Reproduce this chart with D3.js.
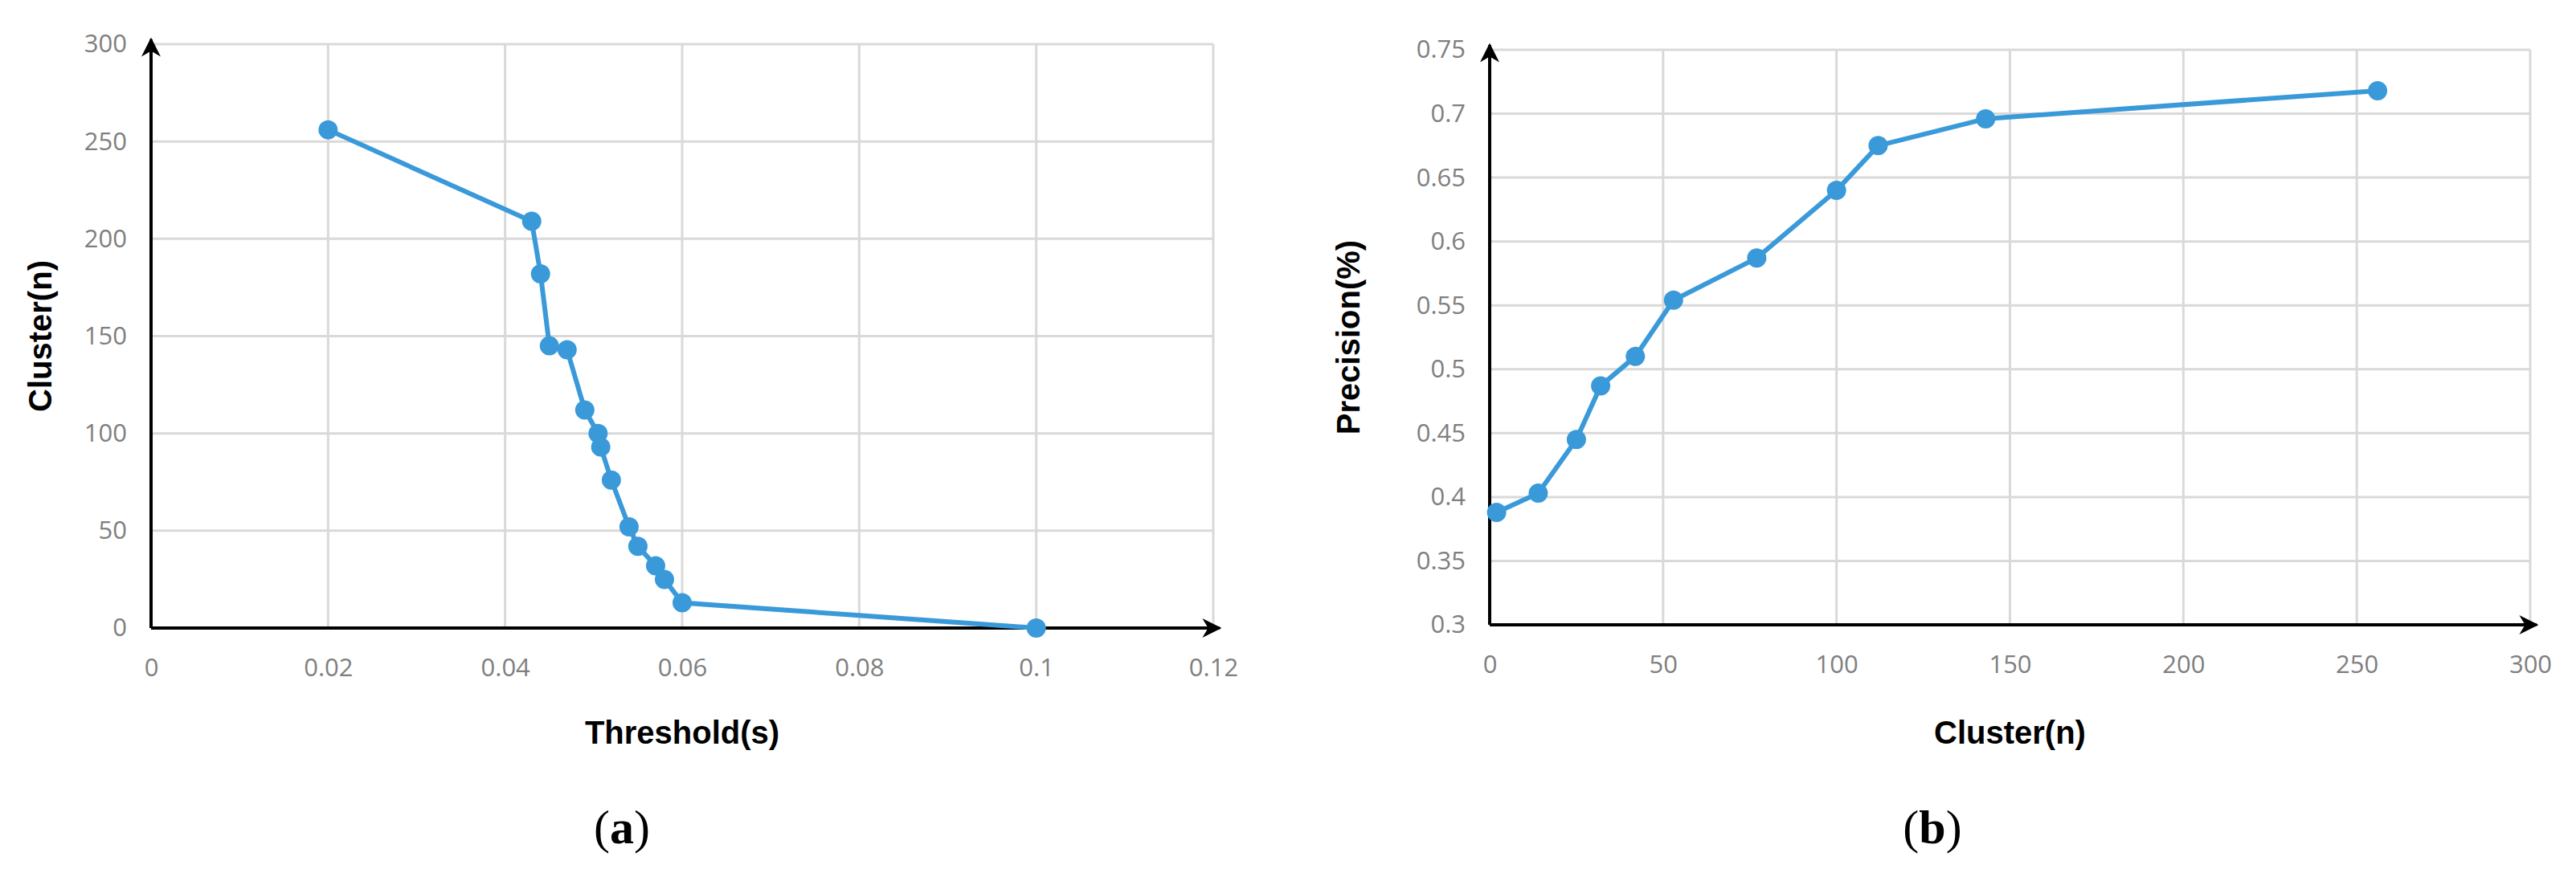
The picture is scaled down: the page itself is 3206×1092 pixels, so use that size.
<!DOCTYPE html>
<html><head><meta charset="utf-8">
<script src="https://cdn.jsdelivr.net/npm/d3@7"></script>
<style>body{margin:0;background:#fff}</style></head>
<body><svg id="c" width="3206" height="1092"></svg>
<script>
const thresholdA = [0.02,0.043,0.044,0.045,0.047,0.049,0.0505,0.0508,0.052,0.054,0.055,0.057,0.058,0.06,0.1];
const clusterA = [256,209,182,145,143,112,100,93,76,52,42,32,25,13,0];
const clusterB = [2,14,25,32,42,53,77,100,112,143,256];
const precisionB = [0.388,0.403,0.445,0.487,0.51,0.554,0.587,0.64,0.675,0.696,0.718];
const xTicksA = [0,0.02,0.04,0.06,0.08,0.1,0.12];
const yTicksA = [0,50,100,150,200,250,300];
const xTicksB = [0,50,100,150,200,250,300];
const yTicksB = [0.3,0.35,0.4,0.45,0.5,0.55,0.6,0.65,0.7,0.75];

const svg = d3.select("#c");
const defs = svg.append("defs");
defs.append("marker").attr("id","arr").attr("viewBox","0 0 10 10").attr("refX",9).attr("refY",5)
  .attr("markerWidth",6).attr("markerHeight",6).attr("markerUnits","strokeWidth").attr("orient","auto")
  .append("path").attr("d","M0,0 L10,5 L0,10 L3,5 Z").attr("fill","#000");

function panel(o){
  const g = svg.append("g");
  const x = d3.scaleLinear().domain(o.xd).range([o.x0,o.x1]);
  const y = d3.scaleLinear().domain(o.yd).range([o.y0,o.y1]);
  g.selectAll(".gx").data(o.xt).join("line").attr("x1",d=>x(d)).attr("x2",d=>x(d))
    .attr("y1",o.y0).attr("y2",o.y1).attr("stroke","#d9d9d9").attr("stroke-width",3);
  g.selectAll(".gy").data(o.yt).join("line").attr("y1",d=>y(d)).attr("y2",d=>y(d))
    .attr("x1",o.x0).attr("x2",o.x1).attr("stroke","#d9d9d9").attr("stroke-width",3);
  const ax = g.append("g").attr("transform",`translate(0,${o.y0})`)
    .call(d3.axisBottom(x).tickValues(o.xt).tickSize(0).tickPadding(38).tickFormat(o.xf));
  const ay = g.append("g").attr("transform",`translate(${o.x0},0)`)
    .call(d3.axisLeft(y).tickValues(o.yt).tickSize(0).tickPadding(30).tickFormat(o.yf));
  [ax,ay].forEach(a=>{a.select(".domain").remove();
    a.selectAll("text").attr("font-family","Open Sans, sans-serif").attr("font-size",31).attr("fill","#7f7f7f");});
  g.append("line").attr("x1",o.x0).attr("x2",o.x1+8).attr("y1",o.y0).attr("y2",o.y0)
    .attr("stroke","#000").attr("stroke-width",4).attr("marker-end","url(#arr)");
  g.append("line").attr("x1",o.x0).attr("x2",o.x0).attr("y1",o.y0).attr("y2",o.y1-6)
    .attr("stroke","#000").attr("stroke-width",4).attr("marker-end","url(#arr)");
  const pts = o.xs.map((v,i)=>[v,o.ys[i]]);
  g.append("path").datum(pts).attr("fill","none").attr("stroke","#3a9ad9").attr("stroke-width",6)
    .attr("d",d3.line().x(d=>x(d[0])).y(d=>y(d[1])));
  g.selectAll("circle").data(pts).join("circle").attr("cx",d=>x(d[0])).attr("cy",d=>y(d[1]))
    .attr("r",12).attr("fill","#3a9ad9");
  g.append("text").attr("x",(o.x0+o.x1)/2).attr("y",926).attr("text-anchor","middle")
    .attr("font-family","Liberation Sans, Arial, sans-serif").attr("font-weight","bold").attr("font-size",40)
    .text(o.xl);
  g.append("text").attr("transform",`translate(${o.ylx},${(o.y0+o.y1)/2}) rotate(-90)`).attr("text-anchor","middle")
    .attr("font-family","Liberation Sans, Arial, sans-serif").attr("font-weight","bold").attr("font-size",40)
    .text(o.yl);
  const cap = g.append("text").attr("x",o.capx).attr("y",1050).attr("text-anchor","middle")
    .attr("font-family","Liberation Serif, serif").attr("font-size",60);
  cap.append("tspan").text("(");
  cap.append("tspan").attr("font-weight","bold").text(o.cap);
  cap.append("tspan").text(")");
}
panel({x0:188,x1:1510,y0:782,y1:55,xd:[0,0.12],yd:[0,300],xt:xTicksA,yt:yTicksA,
  xf:d3.format("~g"),yf:d3.format("d"),xs:thresholdA,ys:clusterA,xl:"Threshold(s)",yl:"Cluster(n)",ylx:64,capx:774,cap:"a"});
panel({x0:1854,x1:3149,y0:778,y1:62,xd:[0,300],yd:[0.3,0.75],xt:xTicksB,yt:yTicksB,
  xf:d3.format("d"),yf:d3.format("~g"),xs:clusterB,ys:precisionB,xl:"Cluster(n)",yl:"Precision(%)",ylx:1692,capx:2405,cap:"b"});
</script></body></html>
